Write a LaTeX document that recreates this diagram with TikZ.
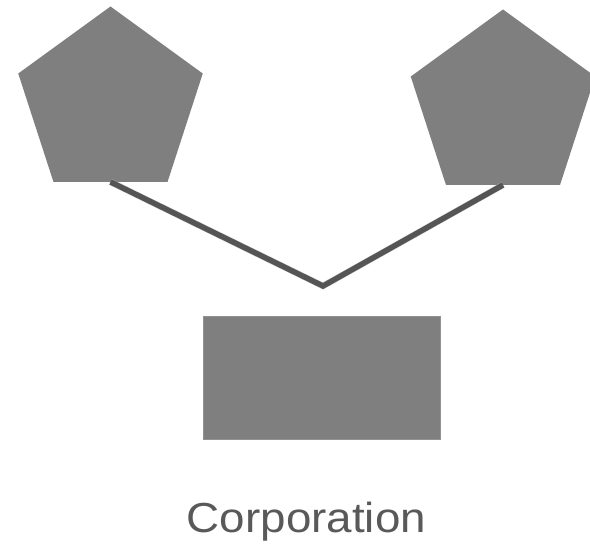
\documentclass[tikz,border=0pt]{standalone}
\usepackage{fontspec}
\setmainfont{Liberation Sans}
\usetikzlibrary{shapes.geometric}
\definecolor{shapegray}{HTML}{7F7F7F}
\definecolor{linkgray}{HTML}{555555}
\definecolor{labelgray}{HTML}{595959}
\tikzset{
  pentabox/.style={regular polygon, regular polygon sides=5, minimum size=194pt,
    inner sep=0pt, outer sep=0pt, fill=shapegray, draw=none},
  corpbox/.style={rectangle, minimum width=237pt, minimum height=123pt,
    inner sep=0pt, outer sep=0pt, fill=shapegray, draw=shapegray!85!white, line width=0.6pt},
  linkline/.style={draw=linkgray, line width=5.5pt, line join=miter},
  linkshadow/.style={draw=black!25, line width=6.5pt, line join=miter, opacity=0.6},
  labeltext/.style={font=\fontsize{42}{42}\selectfont, text=labelgray, inner sep=0pt, anchor=base}
}
\begin{document}
\begin{tikzpicture}[x=1pt, y=-1pt]
  \clip (0,0) rectangle (590,545);
  \fill[white] (0,0) rectangle (590,545);
  % two partner nodes and the joint entity
  \node[pentabox] (left) at (110.5,103.5) {};
  \node[pentabox] (right) at (503,106.5) {};
  \coordinate (join) at (323,286);
  \node[corpbox] (corp) at (321.5,377.5) {};
  % connector with a soft shadow underneath
  \begin{scope}[shift={(1.5,2)}]
    \draw[linkshadow] (left.side 3) -- (join) -- (right.side 3);
  \end{scope}
  \draw[linkline] (left.side 3) -- (join) -- (right.side 3);
  % caption
  \node[labeltext] (label) at (306.5,533) {\scalebox{1.09}[1]{Corporation}};
\end{tikzpicture}
\end{document}
